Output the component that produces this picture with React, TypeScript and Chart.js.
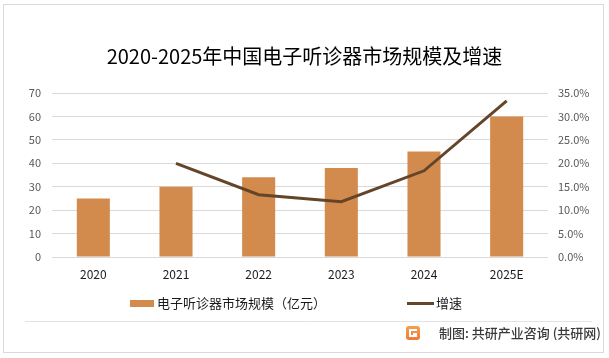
import React, { useEffect, useRef } from "react";
import { Chart, registerables } from "chart.js";

Chart.register(...registerables);

const categories = ["2020", "2021", "2022", "2023", "2024", "2025E"];
const marketSize = [25, 30, 34, 38, 45, 60];
const growthRate = [null, 20.0, 13.3, 11.8, 18.4, 33.3];
const sizeLabel = "电子听诊器市场规模（亿元）";
const growthLabel = "增速";
const titleText = "2020-2025年中国电子听诊器市场规模及增速";
const sourceText = "制图: 共研产业咨询 (共研网)";

const FONT = '"Noto Sans CJK SC", "Noto Sans", sans-serif';
const BAR_COLOR = "#D38B4D";
const LINE_COLOR = "#654529";

const decorPlugin = {
  id: "decor",
  afterDraw(chart: any) {
    const ctx = chart.ctx;
    ctx.save();
    // outer border
    ctx.strokeStyle = "#D9D9D9";
    ctx.lineWidth = 1;
    ctx.strokeRect(3.5, 4.5, 600, 348);

    // legend
    const ds = chart.data.datasets;
    const barDs = ds.find((d: any) => d.type === "bar");
    const lineDs = ds.find((d: any) => d.type === "line");
    ctx.font = "13px " + FONT;
    ctx.textBaseline = "middle";
    ctx.textAlign = "left";
    ctx.fillStyle = barDs.backgroundColor;
    ctx.fillRect(130, 300, 24, 7);
    ctx.fillStyle = "#1a1a1a";
    ctx.fillText(barDs.label, 157, 303.5);
    ctx.strokeStyle = lineDs.borderColor;
    ctx.lineWidth = 3;
    ctx.beginPath();
    ctx.moveTo(407, 303.5);
    ctx.lineTo(434, 303.5);
    ctx.stroke();
    ctx.fillStyle = "#1a1a1a";
    ctx.fillText(lineDs.label, 436, 303.5);

    // footer separator
    ctx.strokeStyle = "#E3E3E3";
    ctx.lineWidth = 1;
    ctx.beginPath();
    ctx.moveTo(25, 321.5);
    ctx.lineTo(592, 321.5);
    ctx.stroke();

    // logo
    const lx = 406, ly = 326;
    const g = ctx.createLinearGradient(lx, ly, lx, ly + 14);
    g.addColorStop(0, "#F6A04D");
    g.addColorStop(1, "#EE7A3A");
    ctx.fillStyle = g;
    ctx.beginPath();
    ctx.roundRect(lx, ly, 14, 14, 3);
    ctx.fill();
    ctx.fillStyle = "#ffffff";
    ctx.fillRect(lx + 3, ly + 3, 8, 2);
    ctx.fillRect(lx + 3, ly + 3, 2, 8);
    ctx.fillRect(lx + 3, ly + 9, 8, 2);
    ctx.fillRect(lx + 7, ly + 7, 4, 2);

    // source text
    ctx.font = "500 13px " + FONT;
    ctx.fillStyle = "#3a3a3a";
    ctx.textAlign = "right";
    ctx.fillText(sourceText, 601, 333.5);
    ctx.restore();
  },
};

export default function App() {
  const ref = useRef<HTMLCanvasElement>(null);

  useEffect(() => {
    if (!ref.current) return;
    Chart.defaults.font.family = FONT;
    const chart = new Chart(ref.current, {
      data: {
        labels: categories,
        datasets: [
          {
            type: "line",
            label: growthLabel,
            data: growthRate as any,
            yAxisID: "y1",
            borderColor: LINE_COLOR,
            backgroundColor: LINE_COLOR,
            borderWidth: 3,
            pointRadius: 0,
            tension: 0,
            order: 0,
          } as any,
          {
            type: "bar",
            label: sizeLabel,
            data: marketSize,
            yAxisID: "y",
            backgroundColor: BAR_COLOR,
            categoryPercentage: 0.4,
            barPercentage: 1,
            order: 1,
          } as any,
        ],
      },
      options: {
        responsive: false,
        animation: false,
        layout: { padding: 0 },
        plugins: {
          legend: { display: false },
          tooltip: { enabled: false },
          title: {
            display: true,
            text: titleText,
            color: "#000000",
            font: { size: 20, family: FONT, weight: "normal", lineHeight: 1.2 },
            padding: { top: 44, bottom: 25 },
          },
        },
        scales: {
          x: {
            grid: { display: false, drawTicks: false },
            border: { display: false },
            ticks: { color: "#1a1a1a", font: { size: 12 }, padding: 10 },
            afterFit: (s: any) => { s.height = 101; },
          },
          y: {
            position: "left",
            min: 0,
            max: 70,
            ticks: { stepSize: 10, color: "#595959", font: { size: 11 }, padding: 11 },
            grid: { color: "#D9D9D9", drawTicks: false },
            border: { display: false },
            afterFit: (s: any) => { s.width = 52; },
          },
          y1: {
            position: "right",
            min: 0,
            max: 35,
            ticks: {
              stepSize: 5,
              color: "#595959",
              font: { size: 11 },
              padding: 10,
              callback: (v: any) => Number(v).toFixed(1) + "%",
            },
            grid: { display: false, drawTicks: false },
            border: { display: false },
            afterFit: (s: any) => { s.width = 61; },
          },
        },
      } as any,
      plugins: [decorPlugin],
    });
    return () => chart.destroy();
  }, []);

  return (
    <div style={{ position: "absolute", left: 0, top: 0, width: 609, height: 358, background: "#fff" }}>
      <canvas ref={ref} width={609} height={358} style={{ display: "block" }} />
    </div>
  );
}
